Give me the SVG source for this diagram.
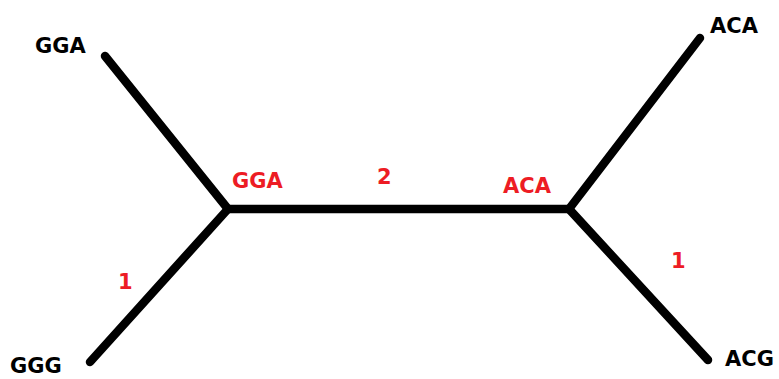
<svg xmlns="http://www.w3.org/2000/svg" width="779" height="379" viewBox="0 0 779 379">
<style>
.e{stroke:#000;stroke-width:8.5;stroke-linecap:round;fill:none}
.t{font-family:"DejaVu Sans",sans-serif;font-weight:bold;font-size:21px;fill:#000}
.r{fill:#ed1c24}
</style>
<rect width="779" height="379" fill="#fff"/>
<g id="connectors">
<line class="e" x1="105" y1="56" x2="228" y2="209"/>
<line class="e" x1="90" y1="362" x2="228" y2="209"/>
<line class="e" x1="228" y1="209" x2="569" y2="209"/>
<line class="e" x1="700" y1="38" x2="569" y2="209"/>
<line class="e" x1="708" y1="360" x2="569" y2="209"/>
<text class="t r" x="118" y="289">1</text>
<text class="t r" x="377" y="184">2</text>
<text class="t r" x="671" y="268">1</text>
</g>
<g id="n-gga-leaf"><text class="t" x="35" y="53">GGA</text></g>
<g id="n-ggg"><text class="t" x="10" y="373">GGG</text></g>
<g id="n-aca-leaf"><text class="t" x="710" y="33">ACA</text></g>
<g id="n-acg"><text class="t" x="725" y="366">ACG</text></g>
<g id="n-gga-int"><text class="t r" x="232" y="188">GGA</text></g>
<g id="n-aca-int"><text class="t r" x="503" y="193">ACA</text></g>
</svg>
